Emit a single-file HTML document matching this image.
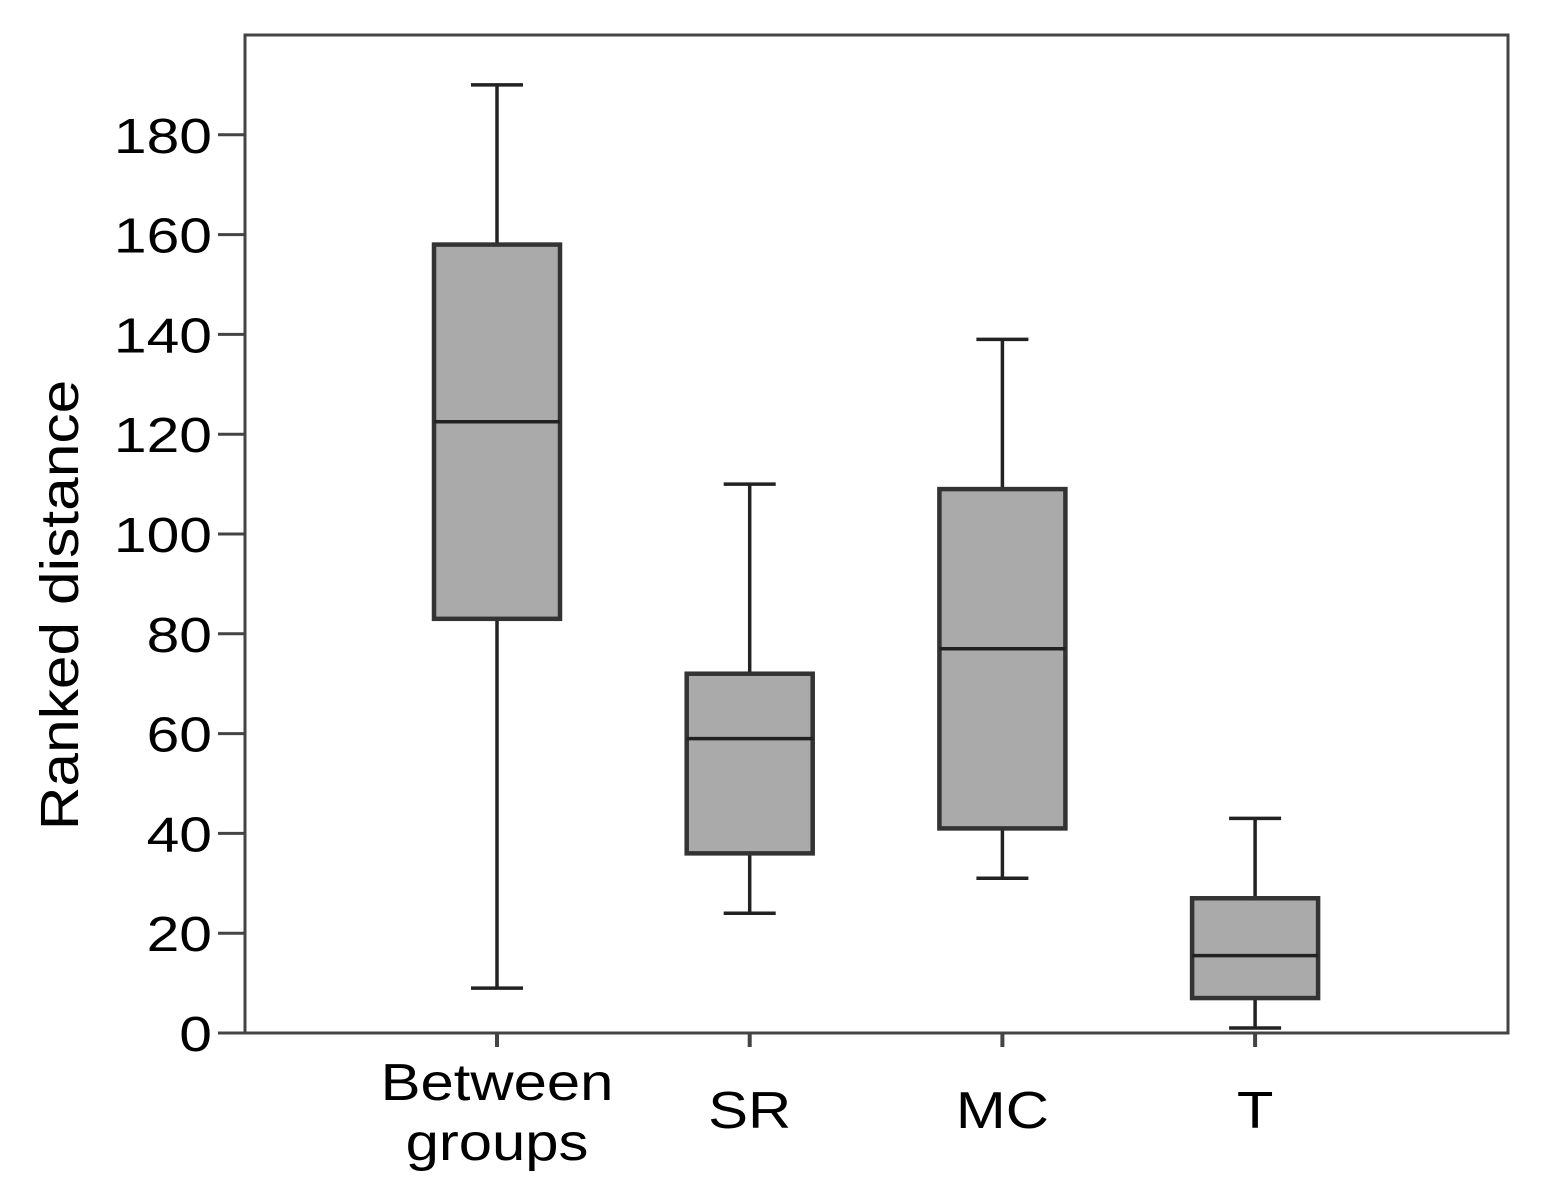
<!DOCTYPE html>
<html><head><meta charset="utf-8"><style>
html,body{margin:0;padding:0;background:#fff;}
svg{display:block;font-family:"Liberation Sans",Arial,sans-serif;}
</style></head><body>
<svg id="chart" width="1543" height="1204" viewBox="0 0 1543 1204">
<rect x="245" y="35" width="1263" height="998" fill="#fff" stroke="#444" stroke-width="3"/>
<g id="yaxis"></g>
<g id="xaxis"></g>
<g id="boxes"></g>
<text x="0" y="0" font-size="54" text-anchor="middle" transform="translate(78 605) rotate(-90) scale(1.12 1)" fill="#000">Ranked distance</text>
</svg>
<script>
const categories = [["Between","groups"],["SR"],["MC"],["T"]];
const whiskerHigh = [190,110,139,43];
const q3 = [158,72,109,27];
const median = [122.5,59,77,15.5];
const q1 = [83,36,41,7];
const whiskerLow = [9,24,31,1];
const yTicks = [0,20,40,60,80,100,120,140,160,180];

const NS = "http://www.w3.org/2000/svg";
const y = v => 1033 - v * 4.99;
const x = i => 497 + i * 252.7;
function mk(tag, attrs, parent){const e=document.createElementNS(NS,tag);for(const k in attrs)e.setAttribute(k,attrs[k]);parent.appendChild(e);return e;}

const ya = document.getElementById('yaxis');
yTicks.forEach(t=>{
  const l = mk('line',{x1:218,x2:245,y1:y(t),y2:y(t),stroke:'#444','stroke-width':3},ya);
  
  
  const tx = mk('text',{x:0,y:0,'font-size':49,'text-anchor':'end',fill:'#000',transform:`translate(212 ${y(t)+18}) scale(1.2 1)`},ya);
  tx.textContent = t;
  
  
});

const xa = document.getElementById('xaxis');
const bx = document.getElementById('boxes');
categories.forEach((c,i)=>{
  const cx = x(i);
  const tk = mk('line',{x1:cx,x2:cx,y1:1033,y2:1047,stroke:'#444','stroke-width':4},xa);
  
  
  const ty = c.length>1?1100:1128;
  const tx = mk('text',{x:0,y:0,'font-size':52,'text-anchor':'middle',fill:'#000',transform:`translate(${cx} ${ty}) scale(1.15 1)`},xa);
  
  
  c.forEach((s,j)=>{const ts=mk('tspan',{x:0,dy:j?60:0},tx);ts.textContent=s;});

  const g = mk('g',{},bx);
  
  
  const st={stroke:'#222','stroke-width':3.5};
  mk('line',Object.assign({x1:cx,x2:cx,y1:y(whiskerHigh[i]),y2:y(q3[i])},st),g);
  mk('line',Object.assign({x1:cx,x2:cx,y1:y(q1[i]),y2:y(whiskerLow[i])},st),g);
  mk('line',Object.assign({x1:cx-26,x2:cx+26,y1:y(whiskerHigh[i]),y2:y(whiskerHigh[i])},st),g);
  mk('line',Object.assign({x1:cx-26,x2:cx+26,y1:y(whiskerLow[i]),y2:y(whiskerLow[i])},st),g);
  mk('rect',{x:cx-63,y:y(q3[i]),width:126,height:y(q1[i])-y(q3[i]),fill:'#aaaaaa',stroke:'#333','stroke-width':4.5},g);
  mk('line',Object.assign({x1:cx-63,x2:cx+63,y1:y(median[i]),y2:y(median[i])},st),g);
});
</script>
</body></html>
